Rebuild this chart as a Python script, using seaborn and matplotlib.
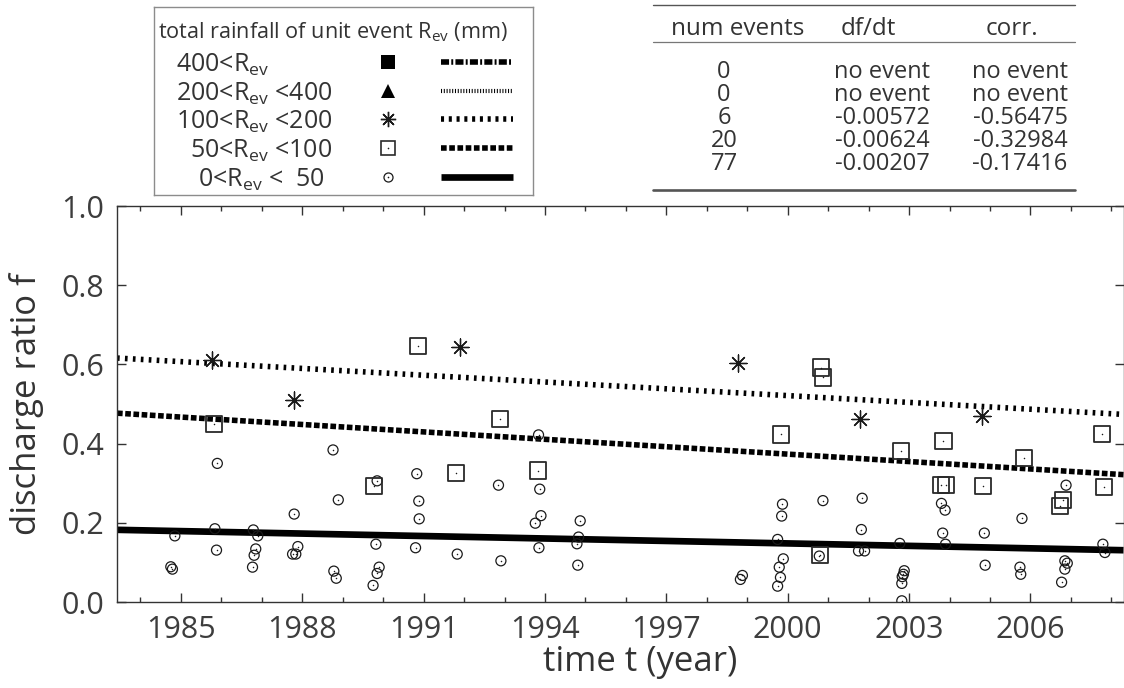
import matplotlib
matplotlib.use("Agg")
import matplotlib.pyplot as plt
from matplotlib.lines import Line2D
import numpy as np
import pandas as pd
import seaborn as sns

sns.set_style("ticks")
plt.rcParams["font.family"] = ["Open Sans", "DejaVu Sans"]
plt.rcParams["mathtext.fontset"] = "custom"
plt.rcParams["mathtext.rm"] = "Open Sans"
plt.rcParams["mathtext.it"] = "Open Sans:italic"
plt.rcParams["mathtext.bf"] = "Open Sans:bold"

TEXT = "#333333"
INK = "#1a1a1a"

# ---- events, 0 < R_ev < 50 mm ----
small_year = [1984.85, 1984.75, 1984.79, 1985.90, 1985.84, 1985.88, 1986.79, 1986.90,
              1986.85, 1986.81, 1986.77, 1987.80, 1987.89, 1987.76, 1987.84, 1988.76,
              1988.89, 1988.78, 1988.84, 1989.85, 1989.82, 1989.90, 1989.85, 1989.75,
              1990.83, 1990.88, 1990.89, 1990.80, 1991.83, 1992.85, 1992.91, 1993.84,
              1993.87, 1993.90, 1993.76, 1993.85, 1994.87, 1994.83, 1994.79, 1994.81,
              1998.88, 1998.83, 1999.87, 1999.85, 1999.75, 1999.89, 1999.79, 1999.82,
              1999.75, 2000.87, 2000.78, 2001.84, 2001.82, 2001.75, 2001.90, 2002.77,
              2002.88, 2002.86, 2002.83, 2002.82, 2002.82, 2003.80, 2003.89, 2003.83,
              2003.90, 2004.86, 2004.88, 2005.79, 2005.74, 2005.76, 2006.88, 2006.85,
              2006.91, 2006.85, 2006.77, 2007.79, 2007.84]
small_f = [0.167, 0.089, 0.083, 0.350, 0.185, 0.131, 0.182, 0.167,
           0.134, 0.118, 0.088, 0.222, 0.140, 0.121, 0.121, 0.384,
           0.258, 0.078, 0.060, 0.306, 0.146, 0.088, 0.072, 0.042,
           0.324, 0.255, 0.210, 0.137, 0.121, 0.295, 0.104, 0.422,
           0.285, 0.218, 0.199, 0.137, 0.205, 0.164, 0.147, 0.093,
           0.067, 0.057, 0.247, 0.217, 0.158, 0.109, 0.088, 0.062,
           0.040, 0.256, 0.116, 0.262, 0.183, 0.129, 0.129, 0.148,
           0.079, 0.070, 0.064, 0.047, 0.003, 0.249, 0.232, 0.174,
           0.146, 0.174, 0.093, 0.211, 0.088, 0.070, 0.295, 0.104,
           0.098, 0.083, 0.050, 0.146, 0.125]

# ---- events, 50 < R_ev < 100 mm ----
medium_year = [1985.82, 1989.78, 1990.85, 1991.80, 1992.88, 1993.83, 1999.83, 2000.83,
               2000.88, 2000.80, 2002.80, 2003.85, 2003.79, 2003.91, 2004.83, 2005.85,
               2006.80, 2006.74, 2007.77, 2007.81]
medium_f = [0.449, 0.293, 0.646, 0.325, 0.462, 0.332, 0.423, 0.592,
            0.567, 0.119, 0.382, 0.407, 0.295, 0.295, 0.294, 0.364,
            0.257, 0.242, 0.425, 0.290]

# ---- events, 100 < R_ev < 200 mm ----
large_year = [1985.78, 1987.80, 1991.90, 1998.78, 2001.79, 2004.79]
large_f = [0.611, 0.510, 0.643, 0.604, 0.461, 0.470]

# ---- summary table (rows: >400, 200-400, 100-200, 50-100, 0-50) ----
num_events = [0, 0, 6, 20, 77]
slopes = [None, None, -0.00572, -0.00624, -0.00207]
corrs = [None, None, -0.56475, -0.32984, -0.17416]
# trend value at 1985.0 for each class
trend_1985 = [None, None, 0.607, 0.467, 0.179]

class_labels = [r"400<R$_{\mathregular{ev}}$",
                r"200<R$_{\mathregular{ev}}$ <400",
                r"100<R$_{\mathregular{ev}}$ <200",
                r"50<R$_{\mathregular{ev}}$ <100",
                r"0<R$_{\mathregular{ev}}$ <  50"]

year_ticks = [1985, 1988, 1991, 1994, 1997, 2000, 2003, 2006]
f_ticks = [0.0, 0.2, 0.4, 0.6, 0.8, 1.0]
XLIM = (1983.42, 2008.30)

W, H = 1124, 688
fig = plt.figure(figsize=(W / 100, H / 100), dpi=100)


def fx(px):
    return px / W


def fy(py):
    return 1 - py / H


ax = fig.add_axes([fx(117), fy(602), (1123.5 - 117) / W, 396 / H])

# ---- trend lines ----
line_styles = {
    2: dict(lw=4.0, linestyle=(0, (0.48, 0.95))),
    3: dict(lw=4.0, linestyle=(0, (1.02, 0.46))),
    4: dict(lw=4.8, linestyle="-"),
}
xs = np.array(XLIM)
for i, st in line_styles.items():
    ys = trend_1985[i] + slopes[i] * (xs - 1985.0)
    sns.lineplot(x=xs, y=ys, ax=ax, color="black", dash_capstyle="butt",
                 solid_capstyle="butt", legend=False, **st)

# ---- event markers ----
sns.scatterplot(x=small_year, y=small_f, ax=ax, marker="o", s=52, color="none",
                edgecolor=INK, linewidth=0.9, legend=False, zorder=3)
sns.scatterplot(x=small_year, y=small_f, ax=ax, marker="o", s=1.2, color=INK,
                linewidth=0, legend=False, zorder=3)
sns.scatterplot(x=medium_year, y=medium_f, ax=ax, marker="s", s=135, color="none",
                edgecolor="#2a2a2a", linewidth=1.3, legend=False, zorder=3)
sns.scatterplot(x=medium_year, y=medium_f, ax=ax, marker="o", s=1.2, color=INK,
                linewidth=0, legend=False, zorder=3)
sns.scatterplot(x=large_year, y=large_f, ax=ax, marker=(8, 2, 0), s=150,
                color=INK, edgecolor=INK, linewidth=0.95, legend=False, zorder=3)

# ---- axes styling ----
ax.set_xlim(*XLIM)
ax.set_ylim(0, 1)
ax.set_xticks(year_ticks)
ax.set_xticks(range(1984, 2009), minor=True)
ax.set_yticks(f_ticks)
ax.set_yticklabels([f"{v:.1f}" for v in f_ticks])
ax.tick_params(which="both", direction="in", top=True, right=True,
               color="#333333", width=1.0, labelsize=22, labelcolor="#3d3d3d")
ax.tick_params(which="major", length=6.5, pad=9)
ax.tick_params(which="minor", length=3.5)
for sp in ax.spines.values():
    sp.set_color("#333333")
    sp.set_linewidth(1.0)

ax.set_xlabel("time t (year)", fontsize=25, color=TEXT)
ax.set_ylabel("discharge ratio f", fontsize=25, color=TEXT)
ax.xaxis.set_label_coords((640 - 117) / 1006.5, (602 - 645) / 396)
ax.yaxis.set_label_coords((44 - 117) / 1006.5, 0.5)

# ---- legend box ----
lg = fig.add_axes([fx(154), fy(195), (533 - 154) / W, (195 - 7) / H])
lg.set_xlim(154, 533)
lg.set_ylim(195, 7)
lg.set_xticks([])
lg.set_yticks([])
for sp in lg.spines.values():
    sp.set_color("#8c8c8c")
    sp.set_linewidth(1.0)
lg.text(158, 38, r"total rainfall of unit event R$_{\mathregular{ev}}$ (mm)",
        fontsize=15.6, color=TEXT, va="baseline", ha="left")

row_base = [71.5, 100.5, 129, 158, 186.5]
row_left = [176, 176, 176, 190, 198]
for lab, yb, xl in zip(class_labels, row_base, row_left):
    lg.text(xl, yb, lab, fontsize=18, color=TEXT, va="baseline", ha="left")

mk_x = 388
mk_y = [b - 9.5 for b in row_base]
lg.plot([mk_x], [mk_y[0]], marker="s", ms=10, color="black", mew=0)
lg.plot([mk_x], [mk_y[1]], marker="^", ms=10, color="black", mew=0)
lg.plot([mk_x], [mk_y[2]], marker=(8, 2, 0), ms=11, color=INK, mew=1.0)
lg.plot([mk_x], [mk_y[3]], marker="s", ms=10.5, mfc="none", mec="#2a2a2a", mew=1.2)
lg.plot([mk_x], [mk_y[3]], marker="o", ms=1.2, color=INK, mew=0)
lg.plot([mk_x], [mk_y[4]], marker="o", ms=6.5, mfc="none", mec=INK, mew=0.9)
lg.plot([mk_x], [mk_y[4]], marker="o", ms=1.2, color=INK, mew=0)

sample_styles = [
    dict(lw=4.0, linestyle=(0, (1.45, 0.4, 0.35, 0.4))),
    dict(lw=3.0, linestyle=(0, (0.25, 0.42))),
    dict(lw=4.0, linestyle=(0, (0.55, 0.85))),
    dict(lw=4.0, linestyle=(0, (1.02, 0.46))),
    dict(lw=4.8, linestyle="-"),
]
for yv, st in zip(mk_y, sample_styles):
    lg.plot([441, 513], [yv, yv], color="black", dash_capstyle="butt",
            solid_capstyle="butt", **st)

# ---- summary table ----
def hline(y, x0, x1, lw, color):
    fig.add_artist(Line2D([fx(x0), fx(x1)], [fy(y), fy(y)], lw=lw, color=color))


hline(5, 653, 1075, 1.0, "#555555")
hline(42, 653, 1075, 0.9, "#777777")
hline(190, 653, 1075, 1.9, "#555555")

col_x = [724, 882, 1020]
head_x = [738, 868, 1012]
for hx, head in zip(head_x, ["num events", "df/dt", "corr."]):
    fig.text(fx(hx), fy(35), head, fontsize=17.5, color=TEXT, ha="center", va="baseline")

# each column is set as one block of tightly leaded lines
columns = [
    [str(n) for n in num_events],
    ["no event" if s is None else f"{s:.5f}" for s in slopes],
    ["no event" if c is None else f"{c:.5f}" for c in corrs],
]
for cx, col in zip(col_x, columns):
    fig.text(fx(cx), fy(59.5), "\n".join(col), fontsize=17, color=TEXT,
             ha="center", va="top", multialignment="center", linespacing=0.95)

fig.savefig("out.png", dpi=100)
